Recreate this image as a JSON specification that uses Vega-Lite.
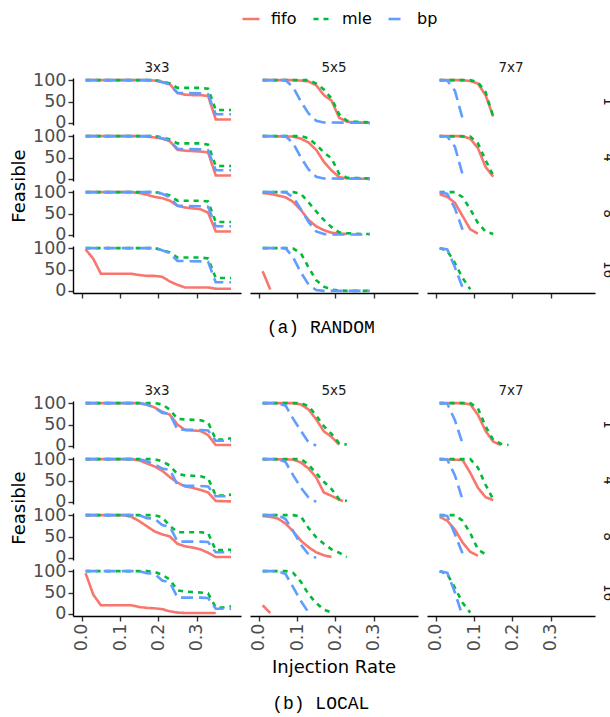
{
"$schema":"https://vega.github.io/schema/vega-lite/v6.json",
"padding":{"left":10,"top":9,"right":0,"bottom":0},
"datasets":{
"random":[
{"m":"3x3","r":"1","a":"fifo","x":0.01,"y":100},{"m":"3x3","r":"1","a":"fifo","x":0.17,"y":100},{"m":"3x3","r":"1","a":"fifo","x":0.19,"y":99},{"m":"3x3","r":"1","a":"fifo","x":0.21,"y":96},{"m":"3x3","r":"1","a":"fifo","x":0.23,"y":91},{"m":"3x3","r":"1","a":"fifo","x":0.25,"y":70},{"m":"3x3","r":"1","a":"fifo","x":0.27,"y":66},{"m":"3x3","r":"1","a":"fifo","x":0.29,"y":65},{"m":"3x3","r":"1","a":"fifo","x":0.31,"y":65},{"m":"3x3","r":"1","a":"fifo","x":0.33,"y":63},{"m":"3x3","r":"1","a":"fifo","x":0.35,"y":8},{"m":"3x3","r":"1","a":"fifo","x":0.39,"y":8},
{"m":"3x3","r":"1","a":"mle","x":0.01,"y":100},{"m":"3x3","r":"1","a":"mle","x":0.19,"y":100},{"m":"3x3","r":"1","a":"mle","x":0.21,"y":97},{"m":"3x3","r":"1","a":"mle","x":0.23,"y":92},{"m":"3x3","r":"1","a":"mle","x":0.25,"y":82},{"m":"3x3","r":"1","a":"mle","x":0.31,"y":82},{"m":"3x3","r":"1","a":"mle","x":0.33,"y":80},{"m":"3x3","r":"1","a":"mle","x":0.35,"y":30},{"m":"3x3","r":"1","a":"mle","x":0.39,"y":30},
{"m":"3x3","r":"1","a":"bp","x":0.01,"y":100},{"m":"3x3","r":"1","a":"bp","x":0.19,"y":100},{"m":"3x3","r":"1","a":"bp","x":0.21,"y":95},{"m":"3x3","r":"1","a":"bp","x":0.23,"y":90},{"m":"3x3","r":"1","a":"bp","x":0.25,"y":70},{"m":"3x3","r":"1","a":"bp","x":0.31,"y":69},{"m":"3x3","r":"1","a":"bp","x":0.33,"y":67},{"m":"3x3","r":"1","a":"bp","x":0.35,"y":20},{"m":"3x3","r":"1","a":"bp","x":0.39,"y":20},
{"m":"3x3","r":"4","a":"fifo","x":0.01,"y":100},{"m":"3x3","r":"4","a":"fifo","x":0.15,"y":100},{"m":"3x3","r":"4","a":"fifo","x":0.17,"y":99},{"m":"3x3","r":"4","a":"fifo","x":0.19,"y":97},{"m":"3x3","r":"4","a":"fifo","x":0.21,"y":94},{"m":"3x3","r":"4","a":"fifo","x":0.23,"y":88},{"m":"3x3","r":"4","a":"fifo","x":0.25,"y":68},{"m":"3x3","r":"4","a":"fifo","x":0.27,"y":66},{"m":"3x3","r":"4","a":"fifo","x":0.29,"y":65},{"m":"3x3","r":"4","a":"fifo","x":0.31,"y":64},{"m":"3x3","r":"4","a":"fifo","x":0.33,"y":62},{"m":"3x3","r":"4","a":"fifo","x":0.35,"y":8},{"m":"3x3","r":"4","a":"fifo","x":0.39,"y":8},
{"m":"3x3","r":"4","a":"mle","x":0.01,"y":100},{"m":"3x3","r":"4","a":"mle","x":0.19,"y":100},{"m":"3x3","r":"4","a":"mle","x":0.21,"y":97},{"m":"3x3","r":"4","a":"mle","x":0.23,"y":92},{"m":"3x3","r":"4","a":"mle","x":0.25,"y":83},{"m":"3x3","r":"4","a":"mle","x":0.31,"y":83},{"m":"3x3","r":"4","a":"mle","x":0.33,"y":80},{"m":"3x3","r":"4","a":"mle","x":0.35,"y":30},{"m":"3x3","r":"4","a":"mle","x":0.39,"y":30},
{"m":"3x3","r":"4","a":"bp","x":0.01,"y":100},{"m":"3x3","r":"4","a":"bp","x":0.19,"y":100},{"m":"3x3","r":"4","a":"bp","x":0.21,"y":95},{"m":"3x3","r":"4","a":"bp","x":0.23,"y":90},{"m":"3x3","r":"4","a":"bp","x":0.25,"y":70},{"m":"3x3","r":"4","a":"bp","x":0.31,"y":69},{"m":"3x3","r":"4","a":"bp","x":0.33,"y":67},{"m":"3x3","r":"4","a":"bp","x":0.35,"y":20},{"m":"3x3","r":"4","a":"bp","x":0.39,"y":20},
{"m":"3x3","r":"8","a":"fifo","x":0.01,"y":100},{"m":"3x3","r":"8","a":"fifo","x":0.13,"y":100},{"m":"3x3","r":"8","a":"fifo","x":0.15,"y":98},{"m":"3x3","r":"8","a":"fifo","x":0.17,"y":94},{"m":"3x3","r":"8","a":"fifo","x":0.19,"y":89},{"m":"3x3","r":"8","a":"fifo","x":0.21,"y":86},{"m":"3x3","r":"8","a":"fifo","x":0.23,"y":80},{"m":"3x3","r":"8","a":"fifo","x":0.25,"y":68},{"m":"3x3","r":"8","a":"fifo","x":0.27,"y":64},{"m":"3x3","r":"8","a":"fifo","x":0.29,"y":62},{"m":"3x3","r":"8","a":"fifo","x":0.31,"y":60},{"m":"3x3","r":"8","a":"fifo","x":0.33,"y":52},{"m":"3x3","r":"8","a":"fifo","x":0.35,"y":8},{"m":"3x3","r":"8","a":"fifo","x":0.39,"y":8},
{"m":"3x3","r":"8","a":"mle","x":0.01,"y":100},{"m":"3x3","r":"8","a":"mle","x":0.19,"y":100},{"m":"3x3","r":"8","a":"mle","x":0.21,"y":97},{"m":"3x3","r":"8","a":"mle","x":0.23,"y":92},{"m":"3x3","r":"8","a":"mle","x":0.25,"y":80},{"m":"3x3","r":"8","a":"mle","x":0.31,"y":80},{"m":"3x3","r":"8","a":"mle","x":0.33,"y":78},{"m":"3x3","r":"8","a":"mle","x":0.35,"y":30},{"m":"3x3","r":"8","a":"mle","x":0.39,"y":30},
{"m":"3x3","r":"8","a":"bp","x":0.01,"y":100},{"m":"3x3","r":"8","a":"bp","x":0.19,"y":100},{"m":"3x3","r":"8","a":"bp","x":0.21,"y":96},{"m":"3x3","r":"8","a":"bp","x":0.23,"y":88},{"m":"3x3","r":"8","a":"bp","x":0.25,"y":68},{"m":"3x3","r":"8","a":"bp","x":0.31,"y":67},{"m":"3x3","r":"8","a":"bp","x":0.33,"y":66},{"m":"3x3","r":"8","a":"bp","x":0.35,"y":20},{"m":"3x3","r":"8","a":"bp","x":0.39,"y":20},
{"m":"3x3","r":"16","a":"fifo","x":0.01,"y":97},{"m":"3x3","r":"16","a":"fifo","x":0.03,"y":75},{"m":"3x3","r":"16","a":"fifo","x":0.05,"y":40},{"m":"3x3","r":"16","a":"fifo","x":0.13,"y":40},{"m":"3x3","r":"16","a":"fifo","x":0.15,"y":37},{"m":"3x3","r":"16","a":"fifo","x":0.17,"y":35},{"m":"3x3","r":"16","a":"fifo","x":0.19,"y":35},{"m":"3x3","r":"16","a":"fifo","x":0.21,"y":33},{"m":"3x3","r":"16","a":"fifo","x":0.23,"y":22},{"m":"3x3","r":"16","a":"fifo","x":0.25,"y":14},{"m":"3x3","r":"16","a":"fifo","x":0.27,"y":8},{"m":"3x3","r":"16","a":"fifo","x":0.33,"y":8},{"m":"3x3","r":"16","a":"fifo","x":0.35,"y":5},{"m":"3x3","r":"16","a":"fifo","x":0.39,"y":5},
{"m":"3x3","r":"16","a":"mle","x":0.01,"y":100},{"m":"3x3","r":"16","a":"mle","x":0.19,"y":100},{"m":"3x3","r":"16","a":"mle","x":0.21,"y":96},{"m":"3x3","r":"16","a":"mle","x":0.23,"y":90},{"m":"3x3","r":"16","a":"mle","x":0.25,"y":78},{"m":"3x3","r":"16","a":"mle","x":0.31,"y":78},{"m":"3x3","r":"16","a":"mle","x":0.33,"y":76},{"m":"3x3","r":"16","a":"mle","x":0.35,"y":30},{"m":"3x3","r":"16","a":"mle","x":0.39,"y":30},
{"m":"3x3","r":"16","a":"bp","x":0.01,"y":100},{"m":"3x3","r":"16","a":"bp","x":0.19,"y":100},{"m":"3x3","r":"16","a":"bp","x":0.21,"y":95},{"m":"3x3","r":"16","a":"bp","x":0.23,"y":88},{"m":"3x3","r":"16","a":"bp","x":0.25,"y":70},{"m":"3x3","r":"16","a":"bp","x":0.31,"y":69},{"m":"3x3","r":"16","a":"bp","x":0.33,"y":68},{"m":"3x3","r":"16","a":"bp","x":0.35,"y":20},{"m":"3x3","r":"16","a":"bp","x":0.39,"y":20},
{"m":"5x5","r":"1","a":"fifo","x":0.01,"y":100},{"m":"5x5","r":"1","a":"fifo","x":0.09,"y":100},{"m":"5x5","r":"1","a":"fifo","x":0.11,"y":99},{"m":"5x5","r":"1","a":"fifo","x":0.13,"y":97},{"m":"5x5","r":"1","a":"fifo","x":0.15,"y":88},{"m":"5x5","r":"1","a":"fifo","x":0.17,"y":65},{"m":"5x5","r":"1","a":"fifo","x":0.19,"y":52},{"m":"5x5","r":"1","a":"fifo","x":0.21,"y":12},{"m":"5x5","r":"1","a":"fifo","x":0.23,"y":3},{"m":"5x5","r":"1","a":"fifo","x":0.25,"y":1},{"m":"5x5","r":"1","a":"fifo","x":0.29,"y":0},
{"m":"5x5","r":"1","a":"mle","x":0.01,"y":100},{"m":"5x5","r":"1","a":"mle","x":0.13,"y":100},{"m":"5x5","r":"1","a":"mle","x":0.15,"y":92},{"m":"5x5","r":"1","a":"mle","x":0.17,"y":78},{"m":"5x5","r":"1","a":"mle","x":0.19,"y":57},{"m":"5x5","r":"1","a":"mle","x":0.21,"y":20},{"m":"5x5","r":"1","a":"mle","x":0.23,"y":5},{"m":"5x5","r":"1","a":"mle","x":0.25,"y":3},{"m":"5x5","r":"1","a":"mle","x":0.27,"y":2},{"m":"5x5","r":"1","a":"mle","x":0.29,"y":1},
{"m":"5x5","r":"1","a":"bp","x":0.01,"y":100},{"m":"5x5","r":"1","a":"bp","x":0.07,"y":100},{"m":"5x5","r":"1","a":"bp","x":0.09,"y":83},{"m":"5x5","r":"1","a":"bp","x":0.11,"y":50},{"m":"5x5","r":"1","a":"bp","x":0.13,"y":22},{"m":"5x5","r":"1","a":"bp","x":0.15,"y":5},{"m":"5x5","r":"1","a":"bp","x":0.17,"y":1},{"m":"5x5","r":"1","a":"bp","x":0.29,"y":0},
{"m":"5x5","r":"4","a":"fifo","x":0.01,"y":100},{"m":"5x5","r":"4","a":"fifo","x":0.09,"y":99},{"m":"5x5","r":"4","a":"fifo","x":0.11,"y":94},{"m":"5x5","r":"4","a":"fifo","x":0.13,"y":85},{"m":"5x5","r":"4","a":"fifo","x":0.15,"y":68},{"m":"5x5","r":"4","a":"fifo","x":0.17,"y":40},{"m":"5x5","r":"4","a":"fifo","x":0.19,"y":20},{"m":"5x5","r":"4","a":"fifo","x":0.21,"y":4},{"m":"5x5","r":"4","a":"fifo","x":0.23,"y":1},{"m":"5x5","r":"4","a":"fifo","x":0.29,"y":0},
{"m":"5x5","r":"4","a":"mle","x":0.01,"y":100},{"m":"5x5","r":"4","a":"mle","x":0.11,"y":100},{"m":"5x5","r":"4","a":"mle","x":0.13,"y":95},{"m":"5x5","r":"4","a":"mle","x":0.15,"y":80},{"m":"5x5","r":"4","a":"mle","x":0.17,"y":62},{"m":"5x5","r":"4","a":"mle","x":0.19,"y":48},{"m":"5x5","r":"4","a":"mle","x":0.21,"y":12},{"m":"5x5","r":"4","a":"mle","x":0.23,"y":3},{"m":"5x5","r":"4","a":"mle","x":0.25,"y":2},{"m":"5x5","r":"4","a":"mle","x":0.29,"y":1},
{"m":"5x5","r":"4","a":"bp","x":0.01,"y":100},{"m":"5x5","r":"4","a":"bp","x":0.07,"y":100},{"m":"5x5","r":"4","a":"bp","x":0.09,"y":83},{"m":"5x5","r":"4","a":"bp","x":0.11,"y":50},{"m":"5x5","r":"4","a":"bp","x":0.13,"y":22},{"m":"5x5","r":"4","a":"bp","x":0.15,"y":5},{"m":"5x5","r":"4","a":"bp","x":0.17,"y":1},{"m":"5x5","r":"4","a":"bp","x":0.29,"y":0},
{"m":"5x5","r":"8","a":"fifo","x":0.01,"y":98},{"m":"5x5","r":"8","a":"fifo","x":0.03,"y":96},{"m":"5x5","r":"8","a":"fifo","x":0.05,"y":92},{"m":"5x5","r":"8","a":"fifo","x":0.07,"y":88},{"m":"5x5","r":"8","a":"fifo","x":0.09,"y":77},{"m":"5x5","r":"8","a":"fifo","x":0.11,"y":58},{"m":"5x5","r":"8","a":"fifo","x":0.13,"y":35},{"m":"5x5","r":"8","a":"fifo","x":0.15,"y":20},{"m":"5x5","r":"8","a":"fifo","x":0.17,"y":11},{"m":"5x5","r":"8","a":"fifo","x":0.19,"y":5},{"m":"5x5","r":"8","a":"fifo","x":0.21,"y":3},{"m":"5x5","r":"8","a":"fifo","x":0.23,"y":2},
{"m":"5x5","r":"8","a":"mle","x":0.01,"y":100},{"m":"5x5","r":"8","a":"mle","x":0.09,"y":100},{"m":"5x5","r":"8","a":"mle","x":0.11,"y":96},{"m":"5x5","r":"8","a":"mle","x":0.13,"y":76},{"m":"5x5","r":"8","a":"mle","x":0.15,"y":55},{"m":"5x5","r":"8","a":"mle","x":0.17,"y":35},{"m":"5x5","r":"8","a":"mle","x":0.19,"y":18},{"m":"5x5","r":"8","a":"mle","x":0.21,"y":6},{"m":"5x5","r":"8","a":"mle","x":0.23,"y":4},{"m":"5x5","r":"8","a":"mle","x":0.25,"y":3},{"m":"5x5","r":"8","a":"mle","x":0.27,"y":2},{"m":"5x5","r":"8","a":"mle","x":0.29,"y":2},
{"m":"5x5","r":"8","a":"bp","x":0.01,"y":100},{"m":"5x5","r":"8","a":"bp","x":0.07,"y":100},{"m":"5x5","r":"8","a":"bp","x":0.09,"y":88},{"m":"5x5","r":"8","a":"bp","x":0.11,"y":60},{"m":"5x5","r":"8","a":"bp","x":0.13,"y":30},{"m":"5x5","r":"8","a":"bp","x":0.15,"y":8},{"m":"5x5","r":"8","a":"bp","x":0.17,"y":2},{"m":"5x5","r":"8","a":"bp","x":0.19,"y":1},{"m":"5x5","r":"8","a":"bp","x":0.29,"y":1},
{"m":"5x5","r":"16","a":"fifo","x":0.01,"y":46},{"m":"5x5","r":"16","a":"fifo","x":0.03,"y":3},
{"m":"5x5","r":"16","a":"mle","x":0.01,"y":100},{"m":"5x5","r":"16","a":"mle","x":0.07,"y":100},{"m":"5x5","r":"16","a":"mle","x":0.09,"y":99},{"m":"5x5","r":"16","a":"mle","x":0.11,"y":88},{"m":"5x5","r":"16","a":"mle","x":0.13,"y":55},{"m":"5x5","r":"16","a":"mle","x":0.15,"y":25},{"m":"5x5","r":"16","a":"mle","x":0.17,"y":10},{"m":"5x5","r":"16","a":"mle","x":0.19,"y":3},{"m":"5x5","r":"16","a":"mle","x":0.21,"y":1},{"m":"5x5","r":"16","a":"mle","x":0.23,"y":0},{"m":"5x5","r":"16","a":"mle","x":0.29,"y":0},
{"m":"5x5","r":"16","a":"bp","x":0.01,"y":100},{"m":"5x5","r":"16","a":"bp","x":0.07,"y":100},{"m":"5x5","r":"16","a":"bp","x":0.09,"y":78},{"m":"5x5","r":"16","a":"bp","x":0.11,"y":43},{"m":"5x5","r":"16","a":"bp","x":0.13,"y":15},{"m":"5x5","r":"16","a":"bp","x":0.15,"y":2},{"m":"5x5","r":"16","a":"bp","x":0.17,"y":0},{"m":"5x5","r":"16","a":"bp","x":0.29,"y":0},
{"m":"7x7","r":"1","a":"fifo","x":0.01,"y":100},{"m":"7x7","r":"1","a":"fifo","x":0.07,"y":100},{"m":"7x7","r":"1","a":"fifo","x":0.09,"y":98},{"m":"7x7","r":"1","a":"fifo","x":0.11,"y":92},{"m":"7x7","r":"1","a":"fifo","x":0.13,"y":65},{"m":"7x7","r":"1","a":"fifo","x":0.15,"y":15},
{"m":"7x7","r":"1","a":"mle","x":0.01,"y":100},{"m":"7x7","r":"1","a":"mle","x":0.09,"y":100},{"m":"7x7","r":"1","a":"mle","x":0.11,"y":95},{"m":"7x7","r":"1","a":"mle","x":0.13,"y":72},{"m":"7x7","r":"1","a":"mle","x":0.15,"y":14},
{"m":"7x7","r":"1","a":"bp","x":0.01,"y":100},{"m":"7x7","r":"1","a":"bp","x":0.03,"y":99},{"m":"7x7","r":"1","a":"bp","x":0.05,"y":75},{"m":"7x7","r":"1","a":"bp","x":0.07,"y":10},
{"m":"7x7","r":"4","a":"fifo","x":0.01,"y":100},{"m":"7x7","r":"4","a":"fifo","x":0.07,"y":100},{"m":"7x7","r":"4","a":"fifo","x":0.09,"y":94},{"m":"7x7","r":"4","a":"fifo","x":0.11,"y":72},{"m":"7x7","r":"4","a":"fifo","x":0.13,"y":28},{"m":"7x7","r":"4","a":"fifo","x":0.15,"y":5},
{"m":"7x7","r":"4","a":"mle","x":0.01,"y":100},{"m":"7x7","r":"4","a":"mle","x":0.09,"y":99},{"m":"7x7","r":"4","a":"mle","x":0.11,"y":83},{"m":"7x7","r":"4","a":"mle","x":0.13,"y":44},{"m":"7x7","r":"4","a":"mle","x":0.15,"y":8},
{"m":"7x7","r":"4","a":"bp","x":0.01,"y":100},{"m":"7x7","r":"4","a":"bp","x":0.03,"y":99},{"m":"7x7","r":"4","a":"bp","x":0.05,"y":75},{"m":"7x7","r":"4","a":"bp","x":0.07,"y":10},
{"m":"7x7","r":"8","a":"fifo","x":0.01,"y":95},{"m":"7x7","r":"8","a":"fifo","x":0.03,"y":89},{"m":"7x7","r":"8","a":"fifo","x":0.05,"y":75},{"m":"7x7","r":"8","a":"fifo","x":0.07,"y":44},{"m":"7x7","r":"8","a":"fifo","x":0.09,"y":13},{"m":"7x7","r":"8","a":"fifo","x":0.11,"y":3},
{"m":"7x7","r":"8","a":"mle","x":0.01,"y":100},{"m":"7x7","r":"8","a":"mle","x":0.05,"y":100},{"m":"7x7","r":"8","a":"mle","x":0.07,"y":88},{"m":"7x7","r":"8","a":"mle","x":0.09,"y":60},{"m":"7x7","r":"8","a":"mle","x":0.11,"y":28},{"m":"7x7","r":"8","a":"mle","x":0.13,"y":8},{"m":"7x7","r":"8","a":"mle","x":0.15,"y":2},
{"m":"7x7","r":"8","a":"bp","x":0.01,"y":100},{"m":"7x7","r":"8","a":"bp","x":0.03,"y":96},{"m":"7x7","r":"8","a":"bp","x":0.05,"y":62},{"m":"7x7","r":"8","a":"bp","x":0.07,"y":12},
{"m":"7x7","r":"16","a":"mle","x":0.01,"y":100},{"m":"7x7","r":"16","a":"mle","x":0.03,"y":94},{"m":"7x7","r":"16","a":"mle","x":0.05,"y":65},{"m":"7x7","r":"16","a":"mle","x":0.07,"y":30},{"m":"7x7","r":"16","a":"mle","x":0.09,"y":4},
{"m":"7x7","r":"16","a":"bp","x":0.01,"y":100},{"m":"7x7","r":"16","a":"bp","x":0.03,"y":97},{"m":"7x7","r":"16","a":"bp","x":0.05,"y":55},{"m":"7x7","r":"16","a":"bp","x":0.07,"y":8}
],
"local":[
{"m":"3x3","r":"1","a":"fifo","x":0.01,"y":100},{"m":"3x3","r":"1","a":"fifo","x":0.15,"y":100},{"m":"3x3","r":"1","a":"fifo","x":0.17,"y":97},{"m":"3x3","r":"1","a":"fifo","x":0.19,"y":90},{"m":"3x3","r":"1","a":"fifo","x":0.21,"y":80},{"m":"3x3","r":"1","a":"fifo","x":0.23,"y":73},{"m":"3x3","r":"1","a":"fifo","x":0.25,"y":50},{"m":"3x3","r":"1","a":"fifo","x":0.27,"y":37},{"m":"3x3","r":"1","a":"fifo","x":0.29,"y":36},{"m":"3x3","r":"1","a":"fifo","x":0.31,"y":35},{"m":"3x3","r":"1","a":"fifo","x":0.33,"y":25},{"m":"3x3","r":"1","a":"fifo","x":0.35,"y":2},{"m":"3x3","r":"1","a":"fifo","x":0.39,"y":2},
{"m":"3x3","r":"1","a":"mle","x":0.01,"y":100},{"m":"3x3","r":"1","a":"mle","x":0.19,"y":100},{"m":"3x3","r":"1","a":"mle","x":0.21,"y":97},{"m":"3x3","r":"1","a":"mle","x":0.23,"y":85},{"m":"3x3","r":"1","a":"mle","x":0.25,"y":63},{"m":"3x3","r":"1","a":"mle","x":0.27,"y":62},{"m":"3x3","r":"1","a":"mle","x":0.29,"y":61},{"m":"3x3","r":"1","a":"mle","x":0.31,"y":60},{"m":"3x3","r":"1","a":"mle","x":0.33,"y":55},{"m":"3x3","r":"1","a":"mle","x":0.35,"y":15},{"m":"3x3","r":"1","a":"mle","x":0.37,"y":15},{"m":"3x3","r":"1","a":"mle","x":0.39,"y":18},
{"m":"3x3","r":"1","a":"bp","x":0.01,"y":100},{"m":"3x3","r":"1","a":"bp","x":0.15,"y":100},{"m":"3x3","r":"1","a":"bp","x":0.17,"y":96},{"m":"3x3","r":"1","a":"bp","x":0.19,"y":90},{"m":"3x3","r":"1","a":"bp","x":0.21,"y":77},{"m":"3x3","r":"1","a":"bp","x":0.23,"y":75},{"m":"3x3","r":"1","a":"bp","x":0.25,"y":38},{"m":"3x3","r":"1","a":"bp","x":0.31,"y":37},{"m":"3x3","r":"1","a":"bp","x":0.33,"y":36},{"m":"3x3","r":"1","a":"bp","x":0.35,"y":12},{"m":"3x3","r":"1","a":"bp","x":0.39,"y":12},
{"m":"3x3","r":"4","a":"fifo","x":0.01,"y":100},{"m":"3x3","r":"4","a":"fifo","x":0.13,"y":100},{"m":"3x3","r":"4","a":"fifo","x":0.15,"y":97},{"m":"3x3","r":"4","a":"fifo","x":0.17,"y":90},{"m":"3x3","r":"4","a":"fifo","x":0.19,"y":83},{"m":"3x3","r":"4","a":"fifo","x":0.21,"y":73},{"m":"3x3","r":"4","a":"fifo","x":0.23,"y":58},{"m":"3x3","r":"4","a":"fifo","x":0.25,"y":45},{"m":"3x3","r":"4","a":"fifo","x":0.27,"y":36},{"m":"3x3","r":"4","a":"fifo","x":0.29,"y":33},{"m":"3x3","r":"4","a":"fifo","x":0.31,"y":28},{"m":"3x3","r":"4","a":"fifo","x":0.33,"y":22},{"m":"3x3","r":"4","a":"fifo","x":0.35,"y":2},{"m":"3x3","r":"4","a":"fifo","x":0.39,"y":1},
{"m":"3x3","r":"4","a":"mle","x":0.01,"y":100},{"m":"3x3","r":"4","a":"mle","x":0.19,"y":100},{"m":"3x3","r":"4","a":"mle","x":0.21,"y":95},{"m":"3x3","r":"4","a":"mle","x":0.23,"y":85},{"m":"3x3","r":"4","a":"mle","x":0.25,"y":65},{"m":"3x3","r":"4","a":"mle","x":0.27,"y":62},{"m":"3x3","r":"4","a":"mle","x":0.29,"y":61},{"m":"3x3","r":"4","a":"mle","x":0.31,"y":60},{"m":"3x3","r":"4","a":"mle","x":0.33,"y":55},{"m":"3x3","r":"4","a":"mle","x":0.35,"y":15},{"m":"3x3","r":"4","a":"mle","x":0.37,"y":15},{"m":"3x3","r":"4","a":"mle","x":0.39,"y":17},
{"m":"3x3","r":"4","a":"bp","x":0.01,"y":100},{"m":"3x3","r":"4","a":"bp","x":0.15,"y":100},{"m":"3x3","r":"4","a":"bp","x":0.17,"y":95},{"m":"3x3","r":"4","a":"bp","x":0.19,"y":88},{"m":"3x3","r":"4","a":"bp","x":0.21,"y":78},{"m":"3x3","r":"4","a":"bp","x":0.23,"y":75},{"m":"3x3","r":"4","a":"bp","x":0.25,"y":40},{"m":"3x3","r":"4","a":"bp","x":0.27,"y":38},{"m":"3x3","r":"4","a":"bp","x":0.31,"y":37},{"m":"3x3","r":"4","a":"bp","x":0.33,"y":36},{"m":"3x3","r":"4","a":"bp","x":0.35,"y":13},{"m":"3x3","r":"4","a":"bp","x":0.39,"y":13},
{"m":"3x3","r":"8","a":"fifo","x":0.01,"y":100},{"m":"3x3","r":"8","a":"fifo","x":0.11,"y":100},{"m":"3x3","r":"8","a":"fifo","x":0.13,"y":96},{"m":"3x3","r":"8","a":"fifo","x":0.15,"y":86},{"m":"3x3","r":"8","a":"fifo","x":0.17,"y":74},{"m":"3x3","r":"8","a":"fifo","x":0.19,"y":62},{"m":"3x3","r":"8","a":"fifo","x":0.21,"y":55},{"m":"3x3","r":"8","a":"fifo","x":0.23,"y":50},{"m":"3x3","r":"8","a":"fifo","x":0.25,"y":33},{"m":"3x3","r":"8","a":"fifo","x":0.27,"y":27},{"m":"3x3","r":"8","a":"fifo","x":0.29,"y":24},{"m":"3x3","r":"8","a":"fifo","x":0.31,"y":20},{"m":"3x3","r":"8","a":"fifo","x":0.33,"y":12},{"m":"3x3","r":"8","a":"fifo","x":0.35,"y":2},{"m":"3x3","r":"8","a":"fifo","x":0.39,"y":2},
{"m":"3x3","r":"8","a":"mle","x":0.01,"y":100},{"m":"3x3","r":"8","a":"mle","x":0.19,"y":100},{"m":"3x3","r":"8","a":"mle","x":0.21,"y":95},{"m":"3x3","r":"8","a":"mle","x":0.23,"y":75},{"m":"3x3","r":"8","a":"mle","x":0.25,"y":60},{"m":"3x3","r":"8","a":"mle","x":0.31,"y":60},{"m":"3x3","r":"8","a":"mle","x":0.33,"y":58},{"m":"3x3","r":"8","a":"mle","x":0.35,"y":18},{"m":"3x3","r":"8","a":"mle","x":0.37,"y":18},{"m":"3x3","r":"8","a":"mle","x":0.39,"y":19},
{"m":"3x3","r":"8","a":"bp","x":0.01,"y":100},{"m":"3x3","r":"8","a":"bp","x":0.15,"y":100},{"m":"3x3","r":"8","a":"bp","x":0.17,"y":93},{"m":"3x3","r":"8","a":"bp","x":0.19,"y":92},{"m":"3x3","r":"8","a":"bp","x":0.21,"y":77},{"m":"3x3","r":"8","a":"bp","x":0.23,"y":73},{"m":"3x3","r":"8","a":"bp","x":0.25,"y":38},{"m":"3x3","r":"8","a":"bp","x":0.31,"y":38},{"m":"3x3","r":"8","a":"bp","x":0.33,"y":37},{"m":"3x3","r":"8","a":"bp","x":0.35,"y":13},{"m":"3x3","r":"8","a":"bp","x":0.39,"y":13},
{"m":"3x3","r":"16","a":"fifo","x":0.01,"y":95},{"m":"3x3","r":"16","a":"fifo","x":0.03,"y":45},{"m":"3x3","r":"16","a":"fifo","x":0.05,"y":20},{"m":"3x3","r":"16","a":"fifo","x":0.13,"y":20},{"m":"3x3","r":"16","a":"fifo","x":0.15,"y":16},{"m":"3x3","r":"16","a":"fifo","x":0.17,"y":14},{"m":"3x3","r":"16","a":"fifo","x":0.19,"y":13},{"m":"3x3","r":"16","a":"fifo","x":0.21,"y":11},{"m":"3x3","r":"16","a":"fifo","x":0.23,"y":6},{"m":"3x3","r":"16","a":"fifo","x":0.25,"y":3},{"m":"3x3","r":"16","a":"fifo","x":0.27,"y":2},{"m":"3x3","r":"16","a":"fifo","x":0.35,"y":2},
{"m":"3x3","r":"16","a":"mle","x":0.01,"y":100},{"m":"3x3","r":"16","a":"mle","x":0.17,"y":100},{"m":"3x3","r":"16","a":"mle","x":0.19,"y":98},{"m":"3x3","r":"16","a":"mle","x":0.21,"y":92},{"m":"3x3","r":"16","a":"mle","x":0.23,"y":80},{"m":"3x3","r":"16","a":"mle","x":0.25,"y":55},{"m":"3x3","r":"16","a":"mle","x":0.27,"y":52},{"m":"3x3","r":"16","a":"mle","x":0.29,"y":51},{"m":"3x3","r":"16","a":"mle","x":0.31,"y":50},{"m":"3x3","r":"16","a":"mle","x":0.33,"y":48},{"m":"3x3","r":"16","a":"mle","x":0.35,"y":15},{"m":"3x3","r":"16","a":"mle","x":0.37,"y":15},{"m":"3x3","r":"16","a":"mle","x":0.39,"y":18},
{"m":"3x3","r":"16","a":"bp","x":0.01,"y":100},{"m":"3x3","r":"16","a":"bp","x":0.15,"y":100},{"m":"3x3","r":"16","a":"bp","x":0.17,"y":95},{"m":"3x3","r":"16","a":"bp","x":0.19,"y":94},{"m":"3x3","r":"16","a":"bp","x":0.21,"y":78},{"m":"3x3","r":"16","a":"bp","x":0.23,"y":74},{"m":"3x3","r":"16","a":"bp","x":0.25,"y":38},{"m":"3x3","r":"16","a":"bp","x":0.31,"y":38},{"m":"3x3","r":"16","a":"bp","x":0.33,"y":37},{"m":"3x3","r":"16","a":"bp","x":0.35,"y":12},{"m":"3x3","r":"16","a":"bp","x":0.39,"y":12},
{"m":"5x5","r":"1","a":"fifo","x":0.01,"y":100},{"m":"5x5","r":"1","a":"fifo","x":0.09,"y":100},{"m":"5x5","r":"1","a":"fifo","x":0.11,"y":97},{"m":"5x5","r":"1","a":"fifo","x":0.13,"y":85},{"m":"5x5","r":"1","a":"fifo","x":0.15,"y":62},{"m":"5x5","r":"1","a":"fifo","x":0.17,"y":34},{"m":"5x5","r":"1","a":"fifo","x":0.19,"y":21},{"m":"5x5","r":"1","a":"fifo","x":0.21,"y":3},
{"m":"5x5","r":"1","a":"mle","x":0.01,"y":100},{"m":"5x5","r":"1","a":"mle","x":0.11,"y":100},{"m":"5x5","r":"1","a":"mle","x":0.13,"y":93},{"m":"5x5","r":"1","a":"mle","x":0.15,"y":71},{"m":"5x5","r":"1","a":"mle","x":0.17,"y":46},{"m":"5x5","r":"1","a":"mle","x":0.19,"y":28},{"m":"5x5","r":"1","a":"mle","x":0.21,"y":6},{"m":"5x5","r":"1","a":"mle","x":0.23,"y":3},
{"m":"5x5","r":"1","a":"bp","x":0.01,"y":100},{"m":"5x5","r":"1","a":"bp","x":0.05,"y":100},{"m":"5x5","r":"1","a":"bp","x":0.07,"y":94},{"m":"5x5","r":"1","a":"bp","x":0.09,"y":63},{"m":"5x5","r":"1","a":"bp","x":0.11,"y":35},{"m":"5x5","r":"1","a":"bp","x":0.13,"y":8},{"m":"5x5","r":"1","a":"bp","x":0.15,"y":1},
{"m":"5x5","r":"4","a":"fifo","x":0.01,"y":100},{"m":"5x5","r":"4","a":"fifo","x":0.09,"y":99},{"m":"5x5","r":"4","a":"fifo","x":0.11,"y":92},{"m":"5x5","r":"4","a":"fifo","x":0.13,"y":78},{"m":"5x5","r":"4","a":"fifo","x":0.15,"y":57},{"m":"5x5","r":"4","a":"fifo","x":0.17,"y":22},{"m":"5x5","r":"4","a":"fifo","x":0.19,"y":14},{"m":"5x5","r":"4","a":"fifo","x":0.21,"y":5},{"m":"5x5","r":"4","a":"fifo","x":0.22,"y":2},
{"m":"5x5","r":"4","a":"mle","x":0.01,"y":100},{"m":"5x5","r":"4","a":"mle","x":0.11,"y":100},{"m":"5x5","r":"4","a":"mle","x":0.13,"y":87},{"m":"5x5","r":"4","a":"mle","x":0.15,"y":67},{"m":"5x5","r":"4","a":"mle","x":0.17,"y":47},{"m":"5x5","r":"4","a":"mle","x":0.19,"y":30},{"m":"5x5","r":"4","a":"mle","x":0.21,"y":6},{"m":"5x5","r":"4","a":"mle","x":0.23,"y":2},
{"m":"5x5","r":"4","a":"bp","x":0.01,"y":100},{"m":"5x5","r":"4","a":"bp","x":0.05,"y":100},{"m":"5x5","r":"4","a":"bp","x":0.07,"y":93},{"m":"5x5","r":"4","a":"bp","x":0.09,"y":62},{"m":"5x5","r":"4","a":"bp","x":0.11,"y":33},{"m":"5x5","r":"4","a":"bp","x":0.13,"y":10},{"m":"5x5","r":"4","a":"bp","x":0.15,"y":0},
{"m":"5x5","r":"8","a":"fifo","x":0.01,"y":98},{"m":"5x5","r":"8","a":"fifo","x":0.03,"y":96},{"m":"5x5","r":"8","a":"fifo","x":0.05,"y":92},{"m":"5x5","r":"8","a":"fifo","x":0.07,"y":80},{"m":"5x5","r":"8","a":"fifo","x":0.09,"y":62},{"m":"5x5","r":"8","a":"fifo","x":0.11,"y":40},{"m":"5x5","r":"8","a":"fifo","x":0.13,"y":25},{"m":"5x5","r":"8","a":"fifo","x":0.15,"y":13},{"m":"5x5","r":"8","a":"fifo","x":0.17,"y":6},{"m":"5x5","r":"8","a":"fifo","x":0.19,"y":2},
{"m":"5x5","r":"8","a":"mle","x":0.01,"y":100},{"m":"5x5","r":"8","a":"mle","x":0.09,"y":100},{"m":"5x5","r":"8","a":"mle","x":0.11,"y":97},{"m":"5x5","r":"8","a":"mle","x":0.13,"y":70},{"m":"5x5","r":"8","a":"mle","x":0.15,"y":48},{"m":"5x5","r":"8","a":"mle","x":0.17,"y":33},{"m":"5x5","r":"8","a":"mle","x":0.19,"y":20},{"m":"5x5","r":"8","a":"mle","x":0.21,"y":12},{"m":"5x5","r":"8","a":"mle","x":0.23,"y":2},
{"m":"5x5","r":"8","a":"bp","x":0.01,"y":100},{"m":"5x5","r":"8","a":"bp","x":0.05,"y":100},{"m":"5x5","r":"8","a":"bp","x":0.07,"y":91},{"m":"5x5","r":"8","a":"bp","x":0.09,"y":62},{"m":"5x5","r":"8","a":"bp","x":0.11,"y":31},{"m":"5x5","r":"8","a":"bp","x":0.13,"y":8},{"m":"5x5","r":"8","a":"bp","x":0.15,"y":0},
{"m":"5x5","r":"16","a":"fifo","x":0.01,"y":20},{"m":"5x5","r":"16","a":"fifo","x":0.03,"y":2},
{"m":"5x5","r":"16","a":"mle","x":0.01,"y":100},{"m":"5x5","r":"16","a":"mle","x":0.07,"y":100},{"m":"5x5","r":"16","a":"mle","x":0.09,"y":96},{"m":"5x5","r":"16","a":"mle","x":0.11,"y":75},{"m":"5x5","r":"16","a":"mle","x":0.13,"y":46},{"m":"5x5","r":"16","a":"mle","x":0.15,"y":25},{"m":"5x5","r":"16","a":"mle","x":0.17,"y":10},{"m":"5x5","r":"16","a":"mle","x":0.19,"y":3},
{"m":"5x5","r":"16","a":"bp","x":0.01,"y":100},{"m":"5x5","r":"16","a":"bp","x":0.05,"y":100},{"m":"5x5","r":"16","a":"bp","x":0.07,"y":93},{"m":"5x5","r":"16","a":"bp","x":0.09,"y":62},{"m":"5x5","r":"16","a":"bp","x":0.11,"y":30},{"m":"5x5","r":"16","a":"bp","x":0.13,"y":3},
{"m":"7x7","r":"1","a":"fifo","x":0.01,"y":100},{"m":"7x7","r":"1","a":"fifo","x":0.07,"y":100},{"m":"7x7","r":"1","a":"fifo","x":0.09,"y":97},{"m":"7x7","r":"1","a":"fifo","x":0.11,"y":73},{"m":"7x7","r":"1","a":"fifo","x":0.13,"y":35},{"m":"7x7","r":"1","a":"fifo","x":0.15,"y":10},{"m":"7x7","r":"1","a":"fifo","x":0.17,"y":2},
{"m":"7x7","r":"1","a":"mle","x":0.01,"y":100},{"m":"7x7","r":"1","a":"mle","x":0.09,"y":100},{"m":"7x7","r":"1","a":"mle","x":0.11,"y":88},{"m":"7x7","r":"1","a":"mle","x":0.13,"y":46},{"m":"7x7","r":"1","a":"mle","x":0.15,"y":14},{"m":"7x7","r":"1","a":"mle","x":0.17,"y":5},{"m":"7x7","r":"1","a":"mle","x":0.19,"y":2},
{"m":"7x7","r":"1","a":"bp","x":0.01,"y":100},{"m":"7x7","r":"1","a":"bp","x":0.03,"y":99},{"m":"7x7","r":"1","a":"bp","x":0.05,"y":60},{"m":"7x7","r":"1","a":"bp","x":0.07,"y":5},
{"m":"7x7","r":"4","a":"fifo","x":0.01,"y":100},{"m":"7x7","r":"4","a":"fifo","x":0.07,"y":98},{"m":"7x7","r":"4","a":"fifo","x":0.09,"y":68},{"m":"7x7","r":"4","a":"fifo","x":0.11,"y":33},{"m":"7x7","r":"4","a":"fifo","x":0.13,"y":11},{"m":"7x7","r":"4","a":"fifo","x":0.15,"y":4},
{"m":"7x7","r":"4","a":"mle","x":0.01,"y":100},{"m":"7x7","r":"4","a":"mle","x":0.09,"y":100},{"m":"7x7","r":"4","a":"mle","x":0.11,"y":80},{"m":"7x7","r":"4","a":"mle","x":0.13,"y":40},{"m":"7x7","r":"4","a":"mle","x":0.15,"y":6},
{"m":"7x7","r":"4","a":"bp","x":0.01,"y":100},{"m":"7x7","r":"4","a":"bp","x":0.03,"y":99},{"m":"7x7","r":"4","a":"bp","x":0.05,"y":62},{"m":"7x7","r":"4","a":"bp","x":0.07,"y":5},
{"m":"7x7","r":"8","a":"fifo","x":0.01,"y":96},{"m":"7x7","r":"8","a":"fifo","x":0.03,"y":87},{"m":"7x7","r":"8","a":"fifo","x":0.05,"y":66},{"m":"7x7","r":"8","a":"fifo","x":0.07,"y":36},{"m":"7x7","r":"8","a":"fifo","x":0.09,"y":14},{"m":"7x7","r":"8","a":"fifo","x":0.11,"y":5},
{"m":"7x7","r":"8","a":"mle","x":0.01,"y":100},{"m":"7x7","r":"8","a":"mle","x":0.05,"y":100},{"m":"7x7","r":"8","a":"mle","x":0.07,"y":87},{"m":"7x7","r":"8","a":"mle","x":0.09,"y":58},{"m":"7x7","r":"8","a":"mle","x":0.11,"y":20},{"m":"7x7","r":"8","a":"mle","x":0.13,"y":8},
{"m":"7x7","r":"8","a":"bp","x":0.01,"y":100},{"m":"7x7","r":"8","a":"bp","x":0.03,"y":98},{"m":"7x7","r":"8","a":"bp","x":0.05,"y":55},{"m":"7x7","r":"8","a":"bp","x":0.07,"y":10},
{"m":"7x7","r":"16","a":"mle","x":0.01,"y":100},{"m":"7x7","r":"16","a":"mle","x":0.03,"y":93},{"m":"7x7","r":"16","a":"mle","x":0.05,"y":61},{"m":"7x7","r":"16","a":"mle","x":0.07,"y":26},{"m":"7x7","r":"16","a":"mle","x":0.09,"y":3},
{"m":"7x7","r":"16","a":"bp","x":0.01,"y":100},{"m":"7x7","r":"16","a":"bp","x":0.03,"y":96},{"m":"7x7","r":"16","a":"bp","x":0.05,"y":50},{"m":"7x7","r":"16","a":"bp","x":0.065,"y":8}
]
},
"spacing":45,
"vconcat":[
{
"data":{"name":"random"},
"title":{"text":"(a) RANDOM","orient":"bottom","offset":20,"anchor":"middle","dx":8},
"bounds":"flush",
"facet":{
"column":{"field":"m","type":"nominal","sort":["3x3","5x5","7x7"],"header":{"title":null,"labelPadding":4}},
"row":{"field":"r","type":"nominal","sort":["1","4","8","16"],"header":{"title":"Feasible","titleOrient":"left","labelOrient":"right","labelAngle":90,"labelPadding":6,"titlePadding":-7}}
},
"spacing":{"row":9,"column":9},
"spec":{
"width":168,"height":47,
"mark":{"type":"line","strokeWidth":2.6,"strokeCap":"butt"},
"encoding":{
"x":{"field":"x","type":"quantitative","scale":{"domain":[-0.023,0.416],"nice":false,"zero":false},"axis":{"title":null,"labels":false,"values":[0,0.1,0.2,0.3]}},
"y":{"field":"y","type":"quantitative","scale":{"domain":[-5,105],"nice":false},"axis":{"title":null,"values":[0,50,100]}},
"color":{"field":"a","type":"nominal","scale":{"domain":["fifo","mle","bp"],"range":["#F8766D","#00BA38","#619CFF"]},"legend":{"orient":"none","legendX":168,"legendY":-69,"direction":"horizontal","title":null,"symbolType":"stroke","symbolSize":289,"symbolStrokeWidth":2.6,"labelFontSize":16,"labelOffset":10,"columnPadding":11}},
"strokeDash":{"field":"a","type":"nominal","scale":{"domain":["fifo","mle","bp"],"range":[[1,0],[5,5],[12,6]]},"legend":{"orient":"none","legendX":168,"legendY":-69,"direction":"horizontal","title":null,"symbolType":"stroke","symbolSize":289,"symbolStrokeWidth":2.6,"labelFontSize":16,"labelOffset":10,"columnPadding":11}}
}
}
},
{
"data":{"name":"local"},
"title":{"text":"(b) LOCAL","orient":"bottom","offset":18,"anchor":"middle","dx":8},
"bounds":"flush",
"facet":{
"column":{"field":"m","type":"nominal","sort":["3x3","5x5","7x7"],"header":{"title":"Injection Rate","titleOrient":"bottom","labelOrient":"top","labelPadding":4,"titlePadding":-2}},
"row":{"field":"r","type":"nominal","sort":["1","4","8","16"],"header":{"title":"Feasible","titleOrient":"left","labelOrient":"right","labelAngle":90,"labelPadding":6,"titlePadding":-7}}
},
"spacing":{"row":9,"column":9},
"spec":{
"width":168,"height":47,
"mark":{"type":"line","strokeWidth":2.6,"strokeCap":"butt"},
"encoding":{
"x":{"field":"x","type":"quantitative","scale":{"domain":[-0.023,0.416],"nice":false,"zero":false},"axis":{"title":null,"values":[0,0.1,0.2,0.3],"format":".1f","labelAngle":-90}},
"y":{"field":"y","type":"quantitative","scale":{"domain":[-5,105],"nice":false},"axis":{"title":null,"values":[0,50,100]}},
"color":{"field":"a","type":"nominal","scale":{"domain":["fifo","mle","bp"],"range":["#F8766D","#00BA38","#619CFF"]}},
"strokeDash":{"field":"a","type":"nominal","scale":{"domain":["fifo","mle","bp"],"range":[[1,0],[5,5],[12,6]]}}
}
}
}
],
"config":{
"view":{"stroke":null},
"font":"DejaVu Sans",
"axis":{"grid":false,"labelFont":"DejaVu Sans","labelFontSize":17.5,"labelColor":"#4d4d4d","domainColor":"#000000","domainWidth":1.4,"tickColor":"#333333","tickWidth":1.4,"tickSize":5,"labelPadding":2},
"header":{"labelFont":"DejaVu Sans","labelFontSize":13.5,"labelColor":"#1a1a1a","titleFont":"DejaVu Sans","titleFontSize":18,"titleFontWeight":"normal","titleColor":"#000000"},
"legend":{"labelFont":"DejaVu Sans","labelColor":"#000000"},
"title":{"font":"Liberation Mono","fontSize":18,"fontWeight":"normal","color":"#000000"}
}
}
